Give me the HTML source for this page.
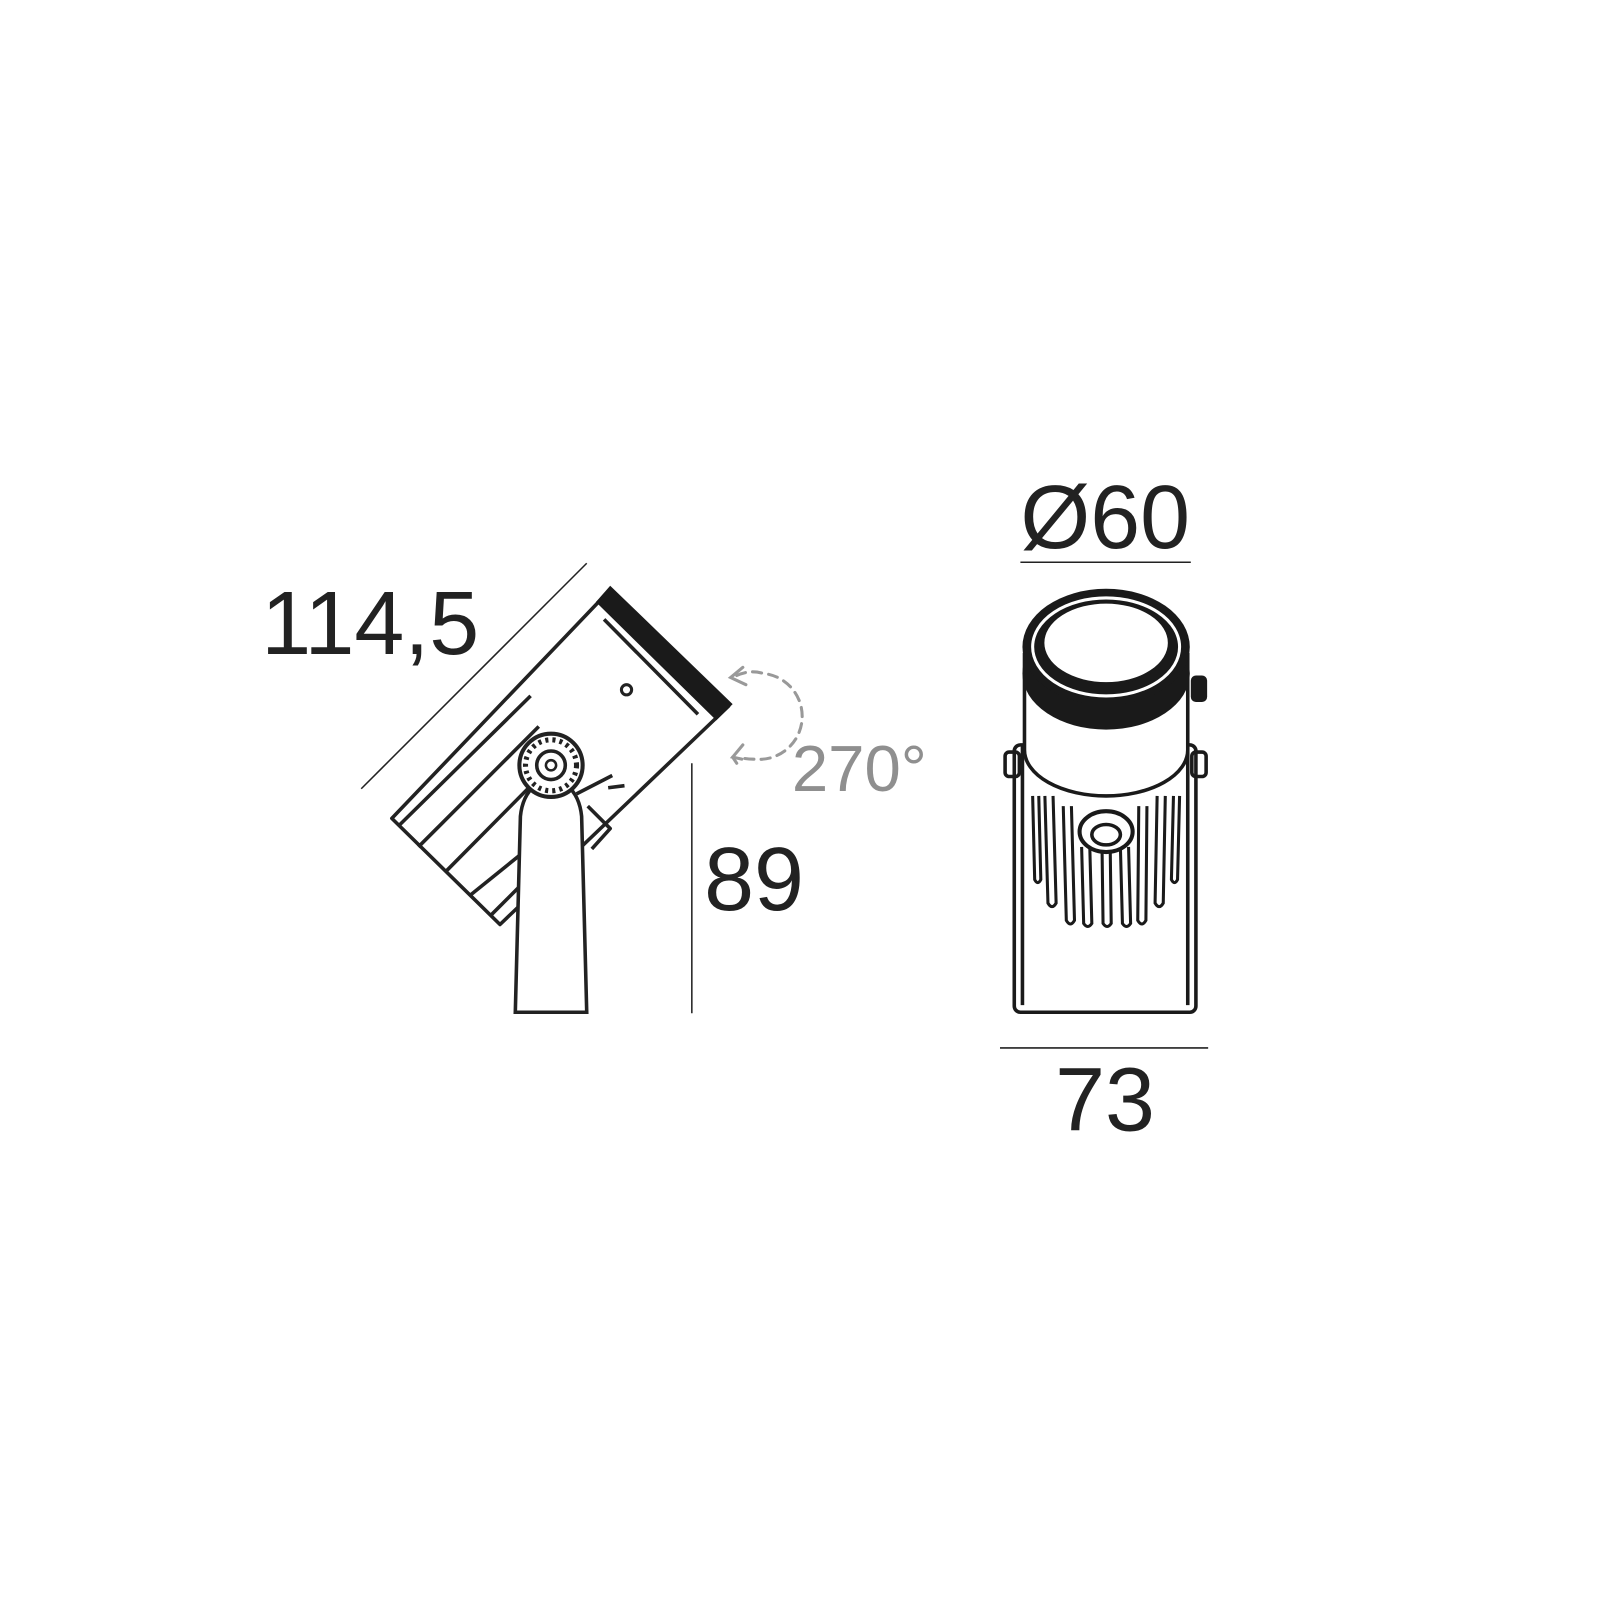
<!DOCTYPE html>
<html><head><meta charset="utf-8"><style>
html,body{margin:0;padding:0;background:#fff;width:1600px;height:1600px;overflow:hidden}
svg{display:block}
text{font-family:"Liberation Sans",sans-serif}
</style></head><body>
<svg width="1600" height="1600" viewBox="0 0 1600 1600" xmlns="http://www.w3.org/2000/svg">
<rect width="1600" height="1600" fill="#fff"/>
<g transform="scale(1.0204)">
<!-- dimension lines -->
<line x1="354" y1="773" x2="575" y2="552" stroke="#222" stroke-width="1.5"/>
<line x1="678" y1="748" x2="678" y2="993" stroke="#222" stroke-width="1.5"/>
<line x1="1000" y1="551" x2="1167" y2="551" stroke="#222" stroke-width="1.5"/>
<line x1="980" y1="1027" x2="1184" y2="1027" stroke="#222" stroke-width="1.5"/>
<text x="256" y="641" font-size="88" fill="#222">114,5</text>
<text x="690" y="892" font-size="88" fill="#222">89</text>
<text x="1000" y="537" font-size="88" fill="#222">Ø60</text>
<text x="1034" y="1108" font-size="88" fill="#222">73</text>
<text x="776" y="775" font-size="64" fill="#8f8f8f">270°</text>
<!-- rotation arrow -->
<g fill="none" stroke="#999" stroke-width="3" stroke-linecap="round">
<path d="M722,662 Q735,656 748,660 A40 40 0 0 1 740 744 Q730 744 724 742" stroke-dasharray="9 7"/>
<path d="M728,654 L716,664 L731,671"/>
<path d="M727,744 L718,742 L728,730"/>
<path d="M718,742 L722,748" />
</g>
<!-- side view body -->
<g fill="none" stroke="#222" stroke-width="3.5" stroke-linejoin="round">
<polygon points="598,578 714,692 490,906 384,802" fill="#fff"/>
<line x1="592" y1="607" x2="684" y2="700"/>
<line x1="392" y1="808" x2="520" y2="682"/>
<line x1="410" y1="830" x2="528" y2="712"/>
<line x1="436" y1="855" x2="545" y2="745"/>
<line x1="460" y1="878" x2="512" y2="836"/>
<line x1="480" y1="898" x2="512" y2="866"/>
<path d="M576,790 L598,812 L580,832"/>
<path d="M565,778 L600,760"/>
<path d="M596,772 L612,770"/>
</g>
<polygon points="598,574 718,690 702,706 584,590" fill="#1a1a1a"/>
<circle cx="614" cy="676" r="5" fill="none" stroke="#222" stroke-width="3"/>
<!-- stem -->
<path d="M505,992 L510,800 Q512,780 524,770 L556,770 Q568,780 570,800 L575,992 Z" fill="#fff" stroke="#222" stroke-width="3.5"/>
<circle cx="540" cy="750" r="31" fill="#fff" stroke="#222" stroke-width="4"/>
<circle cx="540" cy="750" r="25" fill="none" stroke="#222" stroke-width="5" stroke-dasharray="3 4"/>
<circle cx="540" cy="750" r="14" fill="none" stroke="#222" stroke-width="3.5"/>
<circle cx="540" cy="750" r="5" fill="none" stroke="#222" stroke-width="2.5"/>
<!-- front view -->
<g fill="none" stroke="#1a1a1a" stroke-width="3.5">
<rect x="994" y="730" width="178" height="262" rx="6" fill="#fff"/>
<line x1="1002" y1="730" x2="1002" y2="985"/>
<line x1="1164" y1="730" x2="1164" y2="985"/>
<rect x="985" y="737" width="14" height="24" rx="4"/>
<rect x="1168" y="737" width="14" height="24" rx="4"/>
<!-- fins -->
<g stroke-width="3">
<path d="M1012,780 L1014,862 Q1017,868 1020,862 L1018,780"/>
<path d="M1024,780 L1027,885 Q1031,892 1035,885 L1032,780"/>
<path d="M1042,790 L1045,902 Q1049,909 1053,902 L1050,790"/>
<path d="M1060,830 L1062,905 Q1066,911 1070,905 L1068,830"/>
<path d="M1080,830 L1081,905 Q1085,911 1089,905 L1088,830"/>
<path d="M1098,830 L1100,905 Q1104,911 1108,905 L1106,830"/>
<path d="M1116,790 L1115,902 Q1119,909 1123,902 L1124,790"/>
<path d="M1134,780 L1132,885 Q1136,892 1140,885 L1142,780"/>
<path d="M1150,780 L1148,862 Q1151,868 1154,862 L1156,780"/>
</g>
<ellipse cx="1084" cy="815" rx="26" ry="20" fill="#fff" stroke-width="4"/>
<ellipse cx="1084" cy="818" rx="14" ry="10"/>
<!-- head -->
<path d="M1004,640 L1004,735 A80 45 0 0 0 1164 735 L1164,640" fill="#fff"/>
</g>
<ellipse cx="1084" cy="660" rx="82" ry="55" fill="#1a1a1a"/>
<ellipse cx="1084" cy="634" rx="82" ry="57" fill="#1a1a1a"/>
<ellipse cx="1084" cy="634" rx="72" ry="48" fill="none" stroke="#fff" stroke-width="3"/>
<ellipse cx="1084" cy="630" rx="62" ry="40" fill="#fff"/>
<ellipse cx="1084" cy="630" rx="62" ry="40" fill="none" stroke="#1a1a1a" stroke-width="3"/>
<rect x="1167" y="662" width="16" height="26" rx="5" fill="#1a1a1a"/>
</g>
</svg>
</body></html>
